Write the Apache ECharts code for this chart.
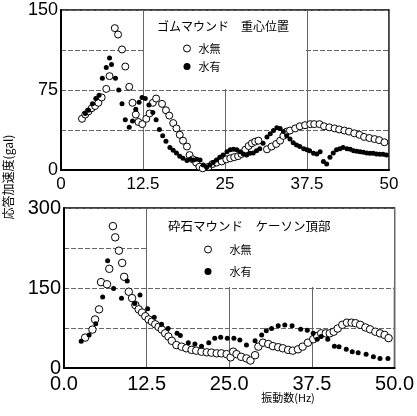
<!DOCTYPE html>
<html>
<head>
<meta charset="utf-8">
<script src="https://cdn.jsdelivr.net/npm/echarts@6/dist/echarts.min.js"></script>
<style>
    html, body { margin: 0; padding: 0; background: #fff; }
    #chart { width: 417px; height: 416px; }
</style>
</head>
<body>
<div id="chart"></div>
<script>
// ゴムマウンド 重心位置 (上段)
let topDryX = [3.2, 3.7, 4.2, 4.7, 5.2, 5.7, 6.2, 6.9, 7.4, 8.2, 8.7, 9.3, 9.8, 10.4, 10.9, 11.4, 11.8, 12.4, 13.0, 13.5, 14.0, 14.5, 15.4, 16.0, 16.5, 17.1, 17.6, 18.1, 18.6, 19.2, 19.6, 20.1, 20.6, 21.1, 21.6, 22.5, 23.1, 23.7, 24.5, 25.2, 25.8, 26.4, 27.0, 27.5, 28.1, 28.6, 29.1, 29.6, 30.1, 31.4, 32.1, 32.8, 33.4, 33.9, 34.4, 34.9, 35.7, 36.4, 37.2, 38.0, 38.6, 39.4, 40.1, 40.9, 41.7, 42.4, 43.2, 43.9, 44.7, 45.5, 46.2, 47.0, 47.8, 48.5, 49.3];
let topDryY = [48, 52, 55, 58, 60, 63, 68, 76, 88, 133, 127, 113, 97, 78, 63, 52, 45, 43, 48, 53, 63, 67, 62, 56, 51, 44, 39, 33, 27.5, 22, 14, 10, 7, 3, 1.6, 3, 5.6, 7, 8, 10, 11, 12, 13, 15, 19, 22.5, 25, 26.6, 27.5, 19.4, 22, 24.4, 27.5, 32, 36, 37, 39, 41, 42, 43, 43, 43, 41, 40, 39, 38, 37, 36, 34.4, 33, 31, 30, 29, 28, 26];
let topWetX = [3.7, 4.2, 4.8, 5.3, 5.8, 6.3, 6.9, 7.4, 7.7, 8.3, 8.8, 9.3, 9.8, 10.4, 10.9, 11.4, 11.9, 12.35, 12.85, 13.4, 14.0, 14.5, 15.0, 15.5, 16.0, 16.6, 17.1, 17.6, 18.1, 18.6, 19.2, 19.7, 20.2, 20.7, 21.2, 21.7, 22.2, 22.7, 23.2, 23.7, 24.2, 24.7, 25.3, 25.8, 26.3, 26.8, 27.3, 27.8, 28.3, 28.8, 29.3, 29.8, 30.3, 30.8, 31.4, 31.9, 32.4, 32.9, 33.4, 33.9, 34.4, 34.9, 35.4, 35.9, 36.4, 37.0, 37.5, 37.9, 38.5, 39.0, 39.5, 40.0, 40.5, 41.0, 41.5, 42.0, 42.5, 43.0, 43.6, 44.1, 44.6, 45.1, 45.6, 46.1, 46.6, 47.1, 47.6, 48.1, 48.6, 49.1, 49.6];
let topWetY = [53, 56, 62, 67, 70, 86, 96, 105, 99, 86, 75, 62, 47, 40, 46, 57, 63.5, 68, 67, 61, 54, 47, 38, 32, 27, 21, 18.5, 16, 13, 11, 9, 10, 9.4, 10, 9.4, 4.7, 2.5, 4.7, 7, 9.4, 12, 14, 17, 19, 19.4, 19, 17, 15, 14, 15.6, 16, 18, 20, 25, 31, 34, 37, 39.5, 39, 36, 32, 29, 25.6, 23.4, 22, 20, 19, 18, 15.6, 15, 17, 8, 5.6, 12, 16, 19, 20, 21, 20, 19.4, 18, 17.5, 17, 16.6, 16, 15.6, 15.6, 15, 14.7, 14.7, 14];

// 砕石マウンド ケーソン頂部 (下段)
let botDryX = [3.2, 4.3, 4.7, 5.3, 5.6, 6.5, 6.85, 7.4, 7.75, 8.3, 8.8, 9.1, 9.8, 10.3, 10.8, 11.3, 11.8, 12.3, 12.8, 13.3, 13.8, 14.3, 14.8, 15.3, 15.8, 16.3, 17.0, 17.8, 18.5, 19.3, 20.0, 20.8, 21.6, 22.3, 23.1, 23.8, 24.6, 25.2, 25.6, 26.1, 26.8, 27.6, 28.2, 28.9, 29.4, 30.1, 30.9, 31.6, 32.4, 33.1, 33.9, 34.6, 35.4, 36.1, 36.9, 37.7, 38.3, 38.9, 39.6, 40.2, 40.8, 41.4, 42.1, 42.8, 43.5, 44.1, 44.8, 45.6, 46.3, 47.1, 47.8, 48.5, 49.1];
let botDryY = [57, 72, 91, 110, 161, 157, 186, 266, 245, 220, 197, 171, 143, 131, 118, 110, 104, 97, 91, 87, 82, 77, 72, 65, 59, 51, 43, 40, 37, 34, 32.5, 30.6, 29.4, 28.8, 27.5, 27.5, 26, 20, 30.6, 26, 21, 18, 14, 24, 40, 47.5, 45, 41, 39, 37, 34, 32.5, 35, 40, 47.5, 54, 60, 65, 65, 65, 68, 74, 81, 85, 85, 84, 81, 76, 72.5, 68, 65, 62, 56];
let botWetX = [2.6, 3.8, 4.8, 5.85, 6.6, 7.5, 8.7, 9.56, 10.7, 11.5, 12.65, 13.65, 14.75, 15.75, 17.1, 17.6, 18.8, 19.8, 20.8, 21.9, 22.8, 23.7, 24.7, 25.7, 26.6, 27.6, 28.9, 29.9, 30.6, 31.4, 32.4, 33.4, 34.5, 35.8, 36.8, 37.7, 38.3, 38.9, 39.9, 40.9, 41.6, 42.7, 43.6, 44.5, 45.7, 46.8, 47.8, 49.0];
let botWetY = [50, 62, 83, 133, 201, 149, 131, 163, 121, 137, 111, 95, 82, 74, 65, 61, 47.5, 45, 41, 47.5, 55.6, 57.5, 55.6, 55.6, 52.5, 43, 51, 62, 70, 74, 79, 80.6, 79, 72.5, 71, 65, 54, 59, 54, 41, 40, 35, 30.6, 28.75, 26, 21, 18, 18];

let seriesNames = ['水無', '水有'];
let topTitle = 'ゴムマウンド　重心位置';
let botTitle = '砕石マウンド　ケーソン頂部';
let yName = '応答加速度(gal)';
let xName = '振動数(Hz)';

window.addEventListener('load', function() {
    let myChart = echarts.init(document.querySelector('#chart'));

    function zip(xs, ys) {
        return xs.map(function(x, i) { return [x, ys[i]]; });
    }

    let numFont = "'Liberation Sans', Arial, sans-serif";
    let cjkFont = "'Noto Sans CJK JP', sans-serif";

    function makeX(gridIndex, size, fmt) {
        return {
            gridIndex: gridIndex,
            type: 'value',
            min: 0,
            max: 50,
            interval: 12.5,
            axisLine: { lineStyle: { color: '#000', width: 2 } },
            axisTick: { show: false },
            axisLabel: { color: '#000', fontSize: size, fontFamily: numFont, margin: 6, formatter: fmt },
            splitLine: { show: true, lineStyle: { color: '#666', width: 1 } }
        };
    }

    function makeY(gridIndex, max, step, size) {
        return {
            gridIndex: gridIndex,
            type: 'value',
            min: 0,
            max: max,
            interval: step / 2,
            axisLine: { lineStyle: { color: '#000', width: 2 } },
            axisTick: { show: false },
            axisLabel: {
                color: '#000', fontSize: size, fontFamily: numFont, margin: 3,
                formatter: function(v) { return v % step === 0 ? String(v) : ''; }
            },
            splitLine: { show: true, lineStyle: { color: '#666', width: 1, type: [5, 2] } }
        };
    }

    function dry(name, idx, data, size) {
        return {
            name: name, type: 'scatter', xAxisIndex: idx, yAxisIndex: idx, z: 3,
            symbol: 'circle', symbolSize: size,
            itemStyle: { color: '#fff', borderColor: '#000', borderWidth: 1, opacity: 1 },
            data: data
        };
    }

    function wet(name, idx, data, size) {
        return {
            name: name, type: 'scatter', xAxisIndex: idx, yAxisIndex: idx, z: 3,
            symbol: 'circle', symbolSize: size,
            itemStyle: { color: '#000', opacity: 1 },
            data: data
        };
    }

    let legendItems = [
        { name: seriesNames[0], itemStyle: { color: '#fff', borderColor: '#000', borderWidth: 1 } },
        { name: seriesNames[1], itemStyle: { color: '#000', borderWidth: 0 } }
    ];

    let option = {
        animation: false,
        backgroundColor: '#fff',
        title: [{
            text: topTitle, left: 157, top: 20, padding: 0,
            textStyle: { fontSize: 12, fontWeight: 'normal', color: '#000', fontFamily: cjkFont }
        }, {
            text: botTitle, left: 168, top: 220, padding: 0,
            textStyle: { fontSize: 12.5, fontWeight: 'normal', color: '#000', fontFamily: cjkFont }
        }],
        legend: [{
            orient: 'vertical', left: 183, top: 43, padding: 0,
            itemWidth: 7, itemHeight: 7, itemGap: 7,
            textStyle: { fontSize: 11, color: '#000', fontFamily: cjkFont, lineHeight: 8, padding: [0, 0, 0, 3] },
            data: legendItems
        }, {
            orient: 'vertical', left: 204, top: 244, padding: 0,
            itemWidth: 7, itemHeight: 7, itemGap: 11,
            textStyle: { fontSize: 11, color: '#000', fontFamily: cjkFont, lineHeight: 8, padding: [0, 0, 0, 13] },
            data: legendItems
        }],
        grid: [
            { left: 61, top: 10, width: 328, height: 160, show: true, borderColor: '#000', borderWidth: 1.5 },
            { left: 64, top: 208, width: 331, height: 160, show: true, borderColor: '#000', borderWidth: 1.5 }
        ],
        xAxis: [
            makeX(0, 17, function(v) { return String(v); }),
            makeX(1, 20, function(v) { return v.toFixed(1); })
        ],
        yAxis: [
            makeY(0, 150, 75, 18),
            makeY(1, 300, 150, 20)
        ],
        graphic: [
            // 凡例部分の白抜き
            { type: 'rect', z: 1, silent: true, shape: { x: 144, y: 11, width: 162, height: 78 }, style: { fill: '#fff' } },
            { type: 'rect', z: 1, silent: true, shape: { x: 147.5, y: 209, width: 246.5, height: 78 }, style: { fill: '#fff' } },
            {
                type: 'text', z: 5, x: 8, y: 177, rotation: Math.PI / 2,
                style: {
                    text: yName, fontSize: 12, fill: '#000', fontFamily: cjkFont,
                    align: 'center', verticalAlign: 'middle', textAlign: 'center', textVerticalAlign: 'middle'
                }
            },
            {
                type: 'text', z: 5, x: 288, y: 398,
                style: {
                    text: xName, fontSize: 11, fill: '#000', fontFamily: cjkFont,
                    align: 'center', verticalAlign: 'middle', textAlign: 'center', textVerticalAlign: 'middle'
                }
            }
        ],
        series: [
            dry(seriesNames[0], 0, zip(topDryX, topDryY), 7),
            wet(seriesNames[1], 0, zip(topWetX, topWetY), 5),
            dry(seriesNames[0], 1, zip(botDryX, botDryY), 7.5),
            wet(seriesNames[1], 1, zip(botWetX, botWetY), 5)
        ]
    };

    myChart.setOption(option);
});
</script>
</body>
</html>
